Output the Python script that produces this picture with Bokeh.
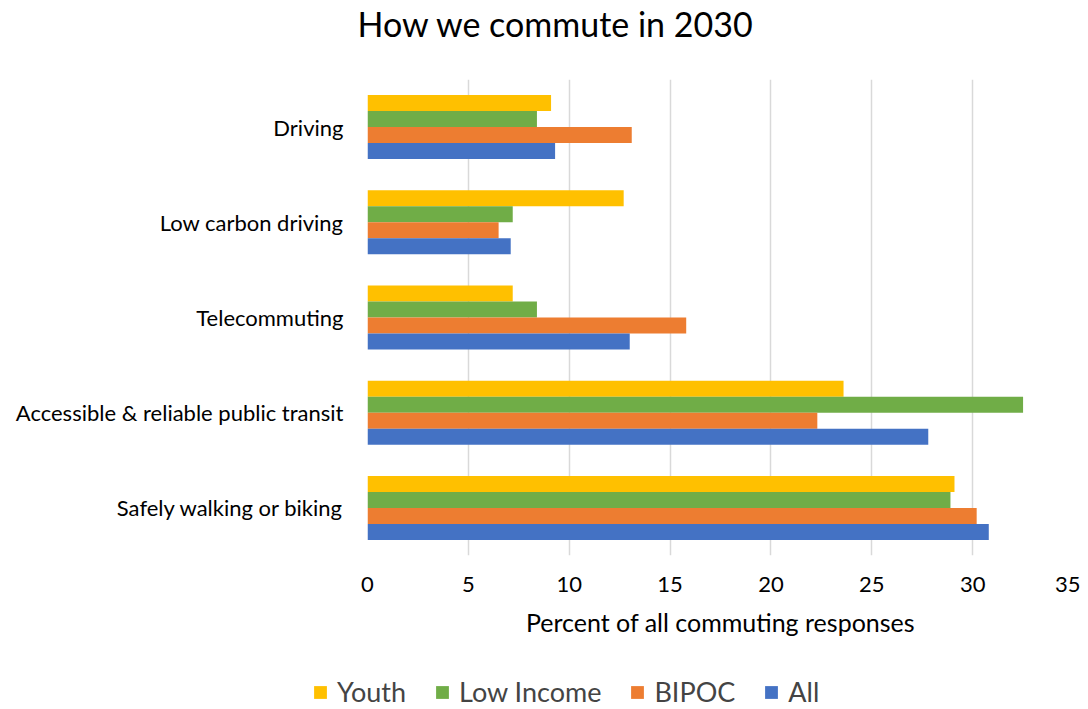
from bokeh.plotting import figure
from bokeh.layouts import column, row
from bokeh.models import (FactorRange, Range1d, ColumnDataSource, Legend, LegendItem,
                          Title, SingleIntervalTicker)
from bokeh.transform import dodge
from bokeh.embed import file_html
from bokeh.resources import INLINE

categories = ["Driving", "Low carbon driving", "Telecommuting",
              "Accessible & reliable public transit", "Safely walking or biking"]
youth = [9.1, 12.7, 7.2, 23.6, 29.1]
low_income = [8.4, 7.2, 8.4, 32.5, 28.9]
bipoc = [13.1, 6.5, 15.8, 22.3, 30.2]
all_resp = [9.3, 7.1, 13.0, 27.8, 30.8]
series_names = ["Youth", "Low Income", "BIPOC", "All"]
colors = ["#FFC000", "#70AD47", "#ED7D31", "#4472C4"]

FONT = "Lato"

source = ColumnDataSource(dict(cat=categories, youth=youth, low=low_income,
                               bipoc=bipoc, all=all_resp))

# title strip
tf = figure(width=1080, height=48, output_backend="svg", toolbar_location=None,
            x_range=Range1d(0, 1), y_range=Range1d(0, 1),
            min_border_left=0, min_border_right=0, min_border_top=0, min_border_bottom=0)
tf.axis.visible = False
tf.grid.visible = False
tf.outline_line_color = None
tf.title = Title(text="How we commute in 2030", text_font=FONT, text_font_size="34px",
                 text_font_style="normal", text_color="#000000", align="left", offset=357,
                 standoff=0)

p = figure(width=1080, height=626, output_backend="svg", toolbar_location=None,
           y_range=FactorRange(factors=list(reversed(categories))),
           x_range=Range1d(0, 35),
           min_border_left=367, min_border_right=7, min_border_top=31, min_border_bottom=119)

bar_h = 0.168
offsets = [1.5 * bar_h, 0.5 * bar_h, -0.5 * bar_h, -1.5 * bar_h]
cols = ["youth", "low", "bipoc", "all"]
for col, off, c in zip(cols, offsets, colors):
    p.hbar(y=dodge("cat", off, range=p.y_range), right=col, left=0, height=bar_h,
           source=source, fill_color=c, line_color=None)

p.outline_line_color = None
p.ygrid.grid_line_color = None
p.xgrid.grid_line_color = "#d9d9d9"
p.xgrid.grid_line_width = 1.5
p.xaxis.ticker = SingleIntervalTicker(interval=5)
p.xaxis.axis_line_color = None
p.xaxis.major_tick_line_color = None
p.xaxis.minor_tick_line_color = None
p.xaxis.major_label_text_font = FONT
p.xaxis.major_label_text_font_size = "22px"
p.xaxis.major_label_text_color = "#000000"
p.xaxis.major_label_standoff = 15
p.xaxis.axis_label = "Percent of all commuting responses"
p.xaxis.axis_label_text_font = FONT
p.xaxis.axis_label_text_font_size = "25px"
p.xaxis.axis_label_text_font_style = "normal"
p.xaxis.axis_label_text_color = "#000000"
p.xaxis.axis_label_standoff = 12

p.yaxis.axis_line_color = None
p.yaxis.major_tick_line_color = None
p.yaxis.minor_tick_line_color = None
p.yaxis.major_label_text_font = FONT
p.yaxis.major_label_text_font_size = "22px"
p.yaxis.major_label_text_color = "#000000"
p.yaxis.major_label_standoff = 18

# legend strip below the chart
lf = figure(width=1080, height=34, output_backend="svg", toolbar_location=None,
            x_range=Range1d(0, 1), y_range=Range1d(0, 1),
            min_border_left=0, min_border_right=0, min_border_top=0, min_border_bottom=0)
lf.axis.visible = False
lf.grid.visible = False
lf.outline_line_color = None
leg_src = ColumnDataSource(dict(y=[-10], right=[1]))
leg_renderers = []
for c in colors:
    r = lf.hbar(y="y", right="right", left=0, height=0.5, source=leg_src,
                fill_color=c, line_color=None)
    leg_renderers.append(r)

legend = Legend(items=[LegendItem(label=n, renderers=[r]) for n, r in zip(series_names, leg_renderers)],
                orientation="horizontal", location=(312, 0),
                label_text_font=FONT, label_text_font_size="27px",
                glyph_width=16, glyph_height=16, label_standoff=9, spacing=28,
                padding=0, margin=0,
                border_line_color=None, background_fill_alpha=0)
lf.add_layout(legend, "center")

layout = column(row(tf), p, row(lf), spacing=0)
open("out.html", "w").write(file_html(layout, INLINE))
